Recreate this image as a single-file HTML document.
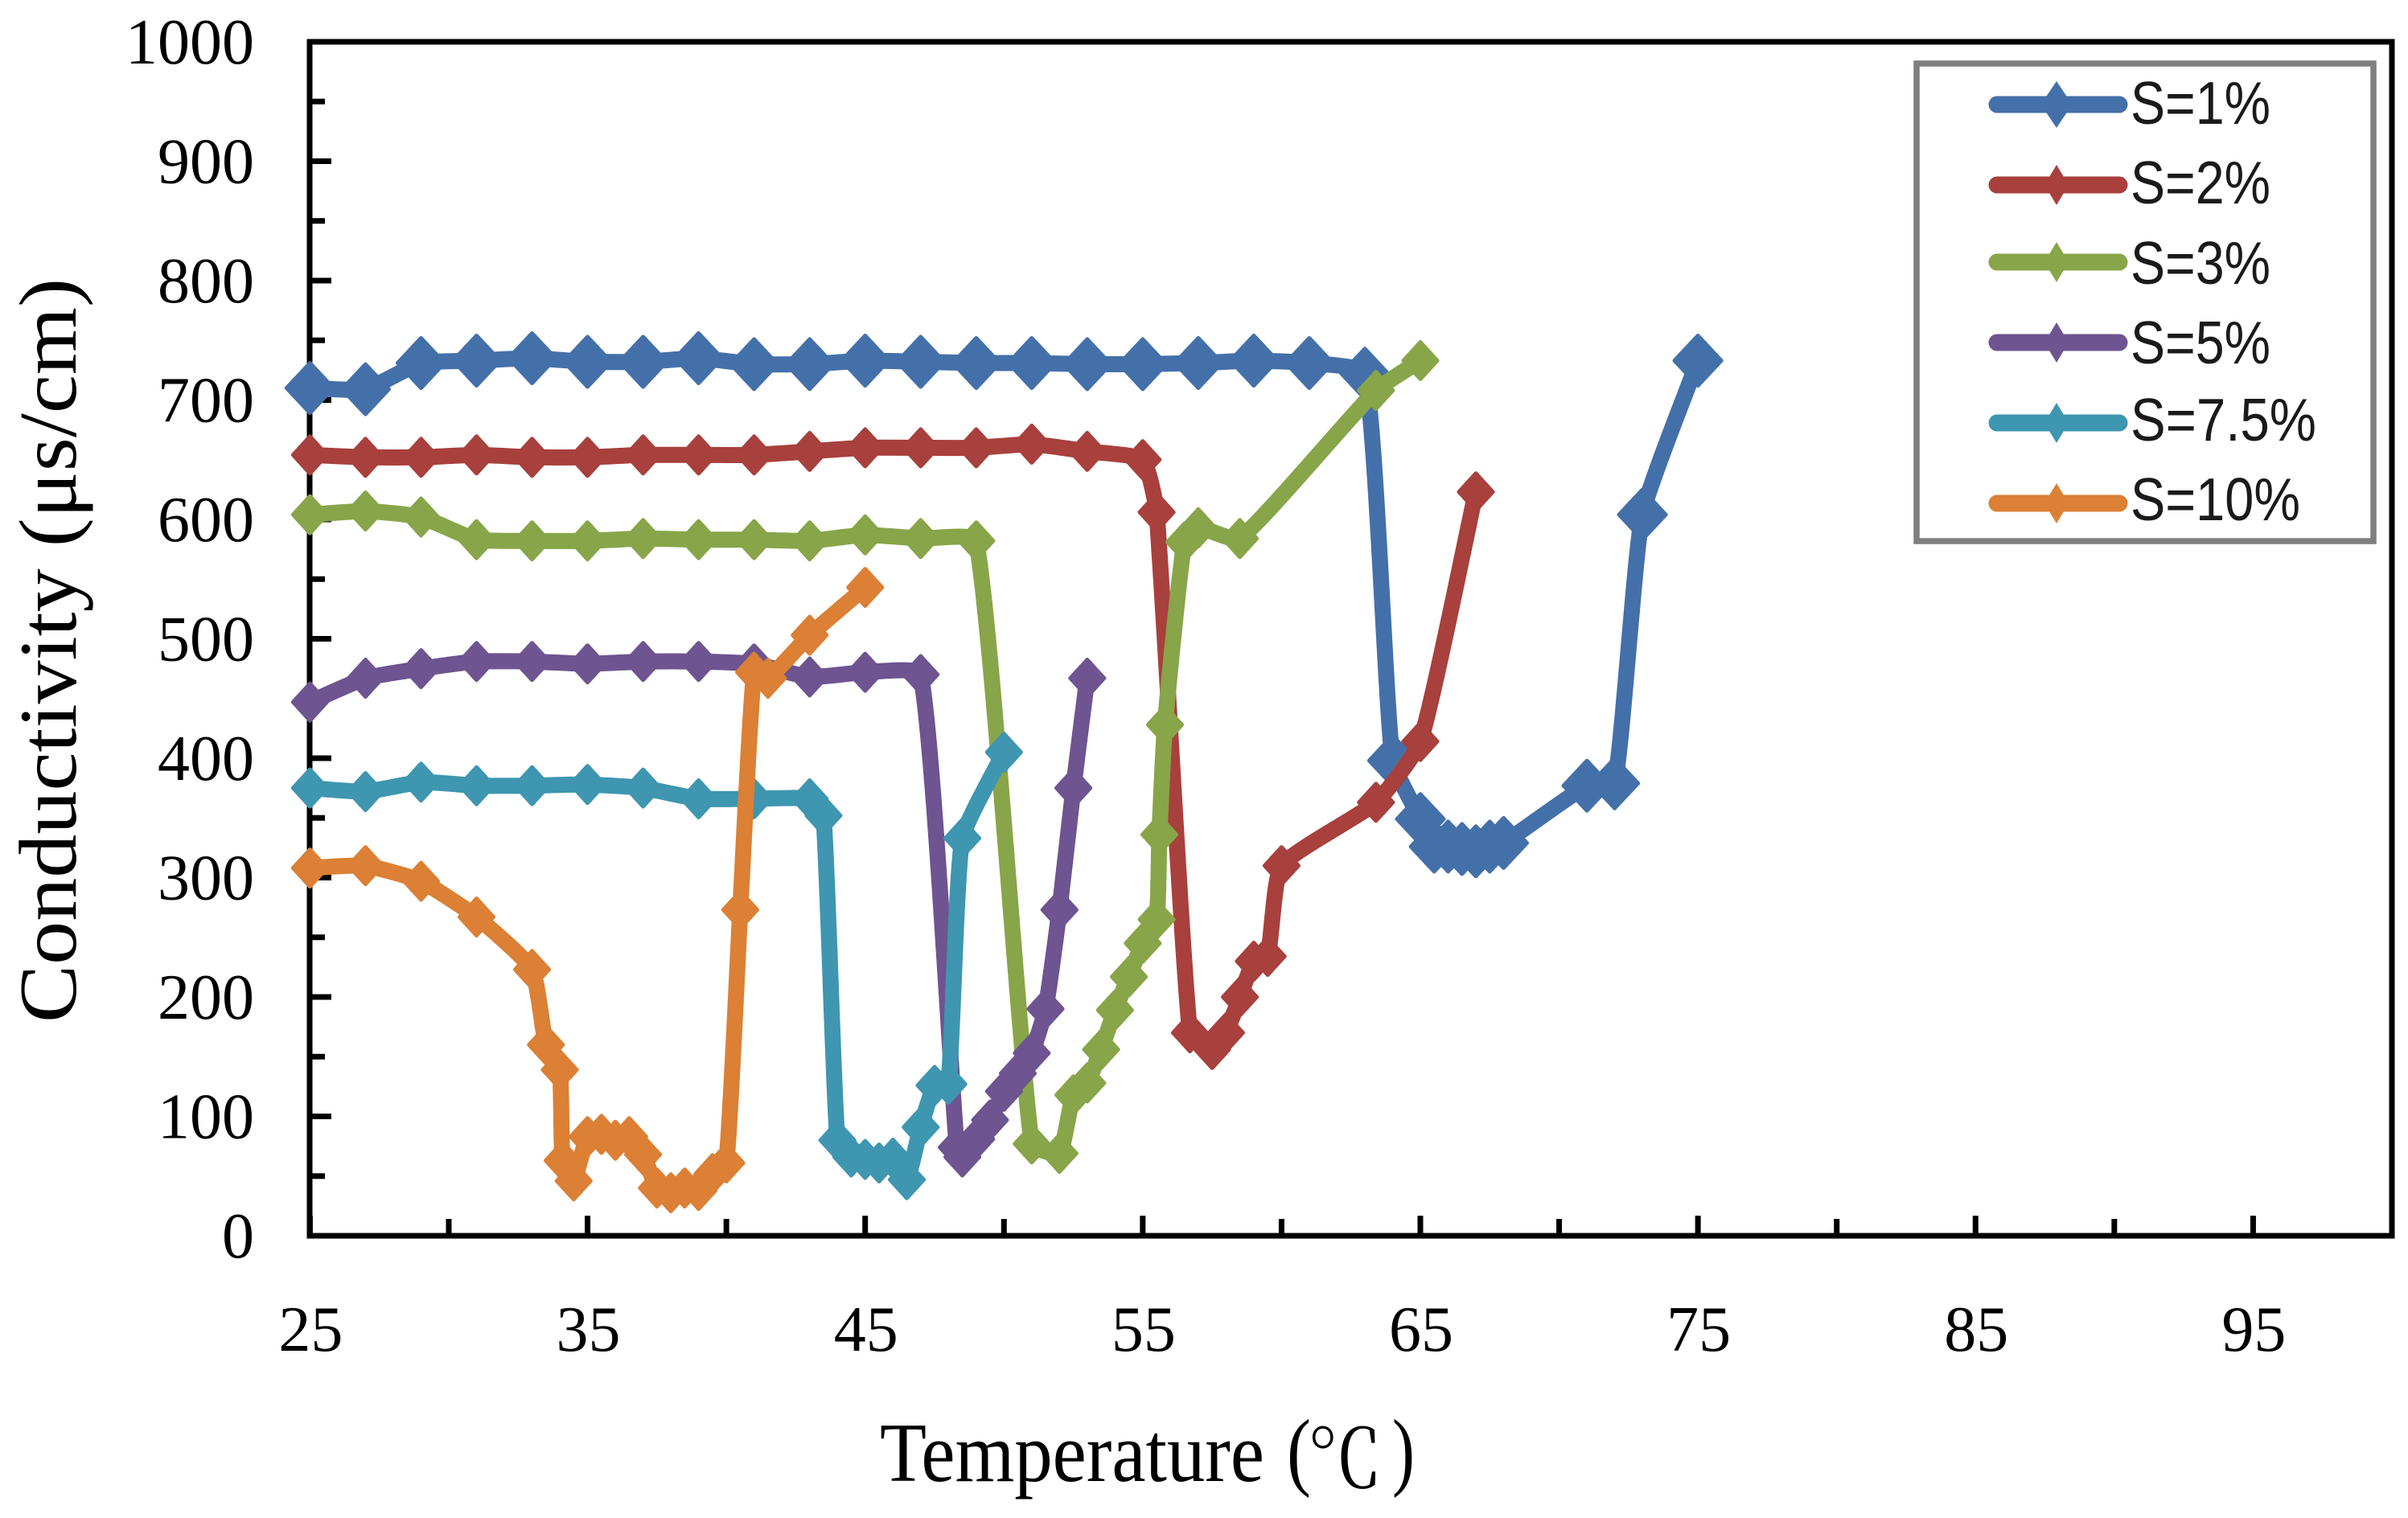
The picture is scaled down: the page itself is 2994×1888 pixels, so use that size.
<!DOCTYPE html>
<html lang="en">
<head>
<meta charset="utf-8">
<title>Conductivity vs Temperature</title>
<style>
html,body{margin:0;padding:0;background:#fff}
svg{display:block}
.serif{font-family:"Liberation Serif","Noto Serif CJK SC",serif;fill:#000}
.sans{font-family:"Liberation Sans","Noto Sans CJK SC",sans-serif;fill:#1a1a1a}
</style>
</head>
<body>
<svg id="chart" xmlns="http://www.w3.org/2000/svg" width="2994" height="1888" viewBox="0 0 2994 1888">
  <rect x="0" y="0" width="2994" height="1888" fill="#fff"/>
  <g id="ticks"></g>
  <rect x="385" y="52" width="2589" height="1485" fill="none" stroke="#000" stroke-width="7"/>
  <g id="tick-labels"></g>
  <g id="series"></g>

  <text class="serif" transform="translate(94,1272) rotate(-90)" font-size="102" textLength="926" lengthAdjust="spacingAndGlyphs">Conductivity (μs/cm)</text>
  <g>
    <text class="serif" x="1094" y="1842" font-size="105" textLength="478" lengthAdjust="spacingAndGlyphs">Temperature</text>
    <text class="serif" x="1600" y="1840" font-size="108" textLength="30" lengthAdjust="spacingAndGlyphs">(</text>
    <text class="serif" x="1625" y="1850" font-size="100" textLength="94" lengthAdjust="spacingAndGlyphs">℃</text>
    <text class="serif" x="1731" y="1840" font-size="108" textLength="28" lengthAdjust="spacingAndGlyphs">)</text>
  </g>

  <g>
    <rect x="2383" y="79" width="568" height="594" fill="#fff" stroke="#7f7f7f" stroke-width="7.5"/>

    <g>
      <line x1="2483" y1="130" x2="2635" y2="130" stroke="#4470A9" stroke-width="21" stroke-linecap="round"/>
      <polygon points="2557,101 2576.5,130 2557,159 2537.5,130" fill="#4470A9"/>
      <text class="sans" x="2649" y="154" font-size="75" textLength="174" lengthAdjust="spacingAndGlyphs">S=1%</text>
    </g>
    <g>
      <line x1="2483" y1="230" x2="2635" y2="230" stroke="#A8403D" stroke-width="21" stroke-linecap="round"/>
      <polygon points="2557,205 2572,230 2557,255 2542,230" fill="#A8403D"/>
      <text class="sans" x="2649" y="253" font-size="75" textLength="174" lengthAdjust="spacingAndGlyphs">S=2%</text>
    </g>
    <g>
      <line x1="2483" y1="326" x2="2635" y2="326" stroke="#88A549" stroke-width="21" stroke-linecap="round"/>
      <polygon points="2557,301 2572,326 2557,351 2542,326" fill="#88A549"/>
      <text class="sans" x="2649" y="353" font-size="75" textLength="174" lengthAdjust="spacingAndGlyphs">S=3%</text>
    </g>
    <g>
      <line x1="2483" y1="426" x2="2635" y2="426" stroke="#6E5490" stroke-width="21" stroke-linecap="round"/>
      <polygon points="2557,401 2572,426 2557,451 2542,426" fill="#6E5490"/>
      <text class="sans" x="2649" y="452" font-size="75" textLength="174" lengthAdjust="spacingAndGlyphs">S=5%</text>
    </g>
    <g>
      <line x1="2483" y1="526" x2="2635" y2="526" stroke="#3E96B0" stroke-width="21" stroke-linecap="round"/>
      <polygon points="2557,501 2572,526 2557,551 2542,526" fill="#3E96B0"/>
      <text class="sans" x="2649" y="548" font-size="75" textLength="231" lengthAdjust="spacingAndGlyphs">S=7.5%</text>
    </g>
    <g>
      <line x1="2483" y1="626" x2="2635" y2="626" stroke="#DB8035" stroke-width="21" stroke-linecap="round"/>
      <polygon points="2557,601 2572,626 2557,651 2542,626" fill="#DB8035"/>
      <text class="sans" x="2649" y="647" font-size="75" textLength="211" lengthAdjust="spacingAndGlyphs">S=10%</text>
    </g>
  </g>
</svg>

<script>
const xLabelValues = [25, 35, 45, 55, 65, 75, 85, 95];
const xMinorValues = [30, 40, 50, 60, 70, 80, 90];
const yLabelValues = [0, 100, 200, 300, 400, 500, 600, 700, 800, 900, 1000];
const yMinorValues = [50, 150, 250, 350, 450, 550, 650, 750, 850, 950];

const seriesNames = ['s1', 's2', 's3', 's5', 's7-5', 's10'];

const temps1 = [25, 27, 29, 31, 33, 35, 37, 39, 41, 43, 45, 47, 49, 51, 53, 55, 57, 59, 61, 63, 64, 65, 65.5, 66, 66.5, 67, 67.5, 68, 71, 72, 73, 75];
const values1 = [710, 709, 731, 733, 735, 732, 732, 735, 730, 730, 733, 732, 731, 731, 730, 730, 731, 733, 731, 722, 398, 349, 326, 326, 324, 322, 326, 329, 377, 379, 604, 733];

const temps2 = [25, 27, 29, 31, 33, 35, 37, 39, 41, 43, 45, 47, 49, 51, 53, 55, 55.5, 56.7, 57.5, 58, 58.5, 59, 59.5, 60, 63.4, 65, 67];
const values2 = [654, 652, 652, 654, 652, 652, 654, 654, 654, 657, 660, 660, 660, 663, 657, 650, 606, 170, 156, 170, 200, 230, 234, 310, 363, 414, 623];

const temps3 = [25, 27, 29, 31, 33, 35, 37, 39, 41, 43, 45, 47, 49, 51, 52, 52.5, 53, 53.5, 54, 54.5, 55, 55.5, 55.6, 55.8, 56.5, 57, 58.5, 63.4, 65];
const values3 = [604, 607, 602, 583, 582, 582, 584, 583, 583, 582, 587, 584, 582, 77, 69, 118, 128, 156, 189, 217, 245, 265, 336, 428, 581, 593, 584, 708, 733];

const temps5 = [25, 27, 29, 31, 33, 35, 37, 39, 41, 43, 45, 47, 48.3, 48.5, 49, 49.5, 50, 50.5, 51, 51.5, 52, 52.5, 53];
const values5 = [447, 467, 475, 481, 481, 479, 481, 481, 479, 468, 472, 470, 74, 66, 81, 97, 121, 136, 153, 190, 273, 375, 467];

const temps75 = [25, 27, 29, 31, 33, 35, 37, 39, 41, 43, 43.5, 44, 44.5, 45, 45.5, 46, 46.5, 47, 47.5, 48, 48.5, 50];
const values75 = [375, 372, 380, 377, 377, 378, 375, 366, 366, 366, 352, 80, 66, 64, 61, 65, 47, 91, 126, 127, 333, 405];

const temps10 = [25, 27, 29, 31, 33, 33.5, 34, 34.1, 34.5, 35, 35.5, 36, 36.5, 37, 37.5, 38, 38.5, 39, 39.5, 40, 40.5, 41, 41.5, 43, 45];
const values10 = [308, 310, 297, 267, 223, 160, 139, 63, 46, 83, 85, 80, 83, 68, 40, 36, 40, 38, 52, 61, 273, 472, 467, 503, 543];

const seriesTemps = [temps1, temps2, temps3, temps5, temps75, temps10];
const seriesValues = [values1, values2, values3, values5, values75, values10];
const seriesColors = ['#4470A9', '#A8403D', '#88A549', '#6E5490', '#3E96B0', '#DB8035'];

const SVG_NS = 'http://www.w3.org/2000/svg';
const xScale = function (t) { return 385.4 + (t - 25) * (2974 - 385.4) / 75; };
const yScale = function (v) { return 1537 - v * 1.485; };

function svgEl(tag, parent) {
  const el = document.createElementNS(SVG_NS, tag);
  parent.appendChild(el);
  return el;
}

function tickRect(parent, x, y, w, h) {
  const r = svgEl('rect', parent);
  r.setAttribute('x', x);
  r.setAttribute('y', y);
  r.setAttribute('width', w);
  r.setAttribute('height', h);
  r.setAttribute('fill', '#000');
  return r;
}

const tickGroup = document.getElementById('ticks');
const labelGroup = document.getElementById('tick-labels');

xLabelValues.forEach(function (t) {
  const tick = tickRect(tickGroup, xScale(t) - 3.5, 1537 - 25, 7, 25);
  
  
  const label = svgEl('text', labelGroup);
  
  
  label.setAttribute('class', 'serif');
  label.setAttribute('x', xScale(t) + 1);
  label.setAttribute('y', 1680);
  label.setAttribute('font-size', '80');
  label.setAttribute('text-anchor', 'middle');
  label.textContent = String(t);
});

xMinorValues.forEach(function (t) {
  const tick = tickRect(tickGroup, xScale(t) - 3.5, 1537 - 21, 7, 21);
  
  
});

yLabelValues.forEach(function (v) {
  const tick = tickRect(tickGroup, 385, yScale(v) - 3.5, 27, 7);
  
  
  const label = svgEl('text', labelGroup);
  
  
  label.setAttribute('class', 'serif');
  label.setAttribute('x', 316);
  label.setAttribute('y', yScale(v) + 27);
  label.setAttribute('font-size', '80');
  label.setAttribute('text-anchor', 'end');
  label.textContent = String(v);
});

yMinorValues.forEach(function (v) {
  const tick = tickRect(tickGroup, 385, yScale(v) - 3.5, 19, 7);
  
  
});

function smoothPath(pts) {
  let d = 'M' + pts[0][0].toFixed(1) + ' ' + pts[0][1].toFixed(1);
  const k = 0.16;
  for (let i = 0; i < pts.length - 1; i++) {
    const p0 = pts[Math.max(i - 1, 0)];
    const p1 = pts[i];
    const p2 = pts[i + 1];
    const p3 = pts[Math.min(i + 2, pts.length - 1)];
    const d12 = Math.hypot(p2[0] - p1[0], p2[1] - p1[1]);
    const d01 = Math.hypot(p1[0] - p0[0], p1[1] - p0[1]);
    const d23 = Math.hypot(p3[0] - p2[0], p3[1] - p2[1]);
    const a = d12 * k / Math.max(d01 + d12, 1e-6);
    const b = d12 * k / Math.max(d12 + d23, 1e-6);
    const c1x = p1[0] + (p2[0] - p0[0]) * a;
    const c1y = p1[1] + (p2[1] - p0[1]) * a;
    const c2x = p2[0] - (p3[0] - p1[0]) * b;
    const c2y = p2[1] - (p3[1] - p1[1]) * b;
    d += ' C' + c1x.toFixed(1) + ' ' + c1y.toFixed(1) + ' ' + c2x.toFixed(1) + ' ' + c2y.toFixed(1) + ' ' + p2[0].toFixed(1) + ' ' + p2[1].toFixed(1);
  }
  return d;
}

const seriesRoot = document.getElementById('series');

seriesNames.forEach(function (name, s) {
  const group = svgEl('g', seriesRoot);
  
  
  const temps = seriesTemps[s];
  const values = seriesValues[s];
  const color = seriesColors[s];
  const pts = temps.map(function (t, i) { return [xScale(t), yScale(values[i])]; });

  const line = svgEl('path', group);
  
  
  line.setAttribute('d', smoothPath(pts));
  line.setAttribute('fill', 'none');
  line.setAttribute('stroke', color);
  line.setAttribute('stroke-width', '20');
  line.setAttribute('stroke-linejoin', 'round');
  line.setAttribute('stroke-linecap', 'round');

  const halfW = s === 0 ? 29 : 21;
  const halfH = s === 0 ? 31 : 23;
  pts.forEach(function (p) {
    const marker = svgEl('polygon', group);
    
    
    marker.setAttribute('points',
      p[0].toFixed(1) + ',' + (p[1] - halfH).toFixed(1) + ' ' +
      (p[0] + halfW).toFixed(1) + ',' + p[1].toFixed(1) + ' ' +
      p[0].toFixed(1) + ',' + (p[1] + halfH).toFixed(1) + ' ' +
      (p[0] - halfW).toFixed(1) + ',' + p[1].toFixed(1));
    marker.setAttribute('fill', color);
    marker.setAttribute('stroke', color);
    marker.setAttribute('stroke-width', '5');
    marker.setAttribute('stroke-linejoin', 'round');
  });
});
</script>
</body>
</html>
